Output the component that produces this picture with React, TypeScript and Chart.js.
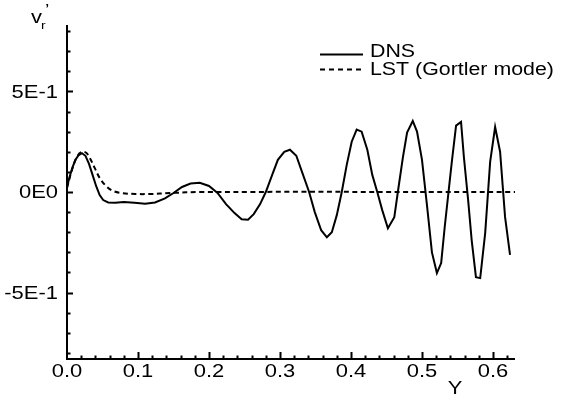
import { useEffect, useRef } from 'react';
import { Chart, registerables } from 'chart.js';

Chart.register(...registerables);

// Wall-normal coordinate Y and disturbance v_r' for the DNS profile
const dnsY = [
  0, 0.004, 0.008, 0.012, 0.016, 0.021, 0.026, 0.031, 0.036, 0.041, 0.046, 0.051,
  0.058, 0.068, 0.08, 0.095, 0.11, 0.124, 0.138, 0.15, 0.162, 0.174, 0.187, 0.2,
  0.212, 0.224, 0.236, 0.246, 0.255, 0.263, 0.272, 0.28, 0.289, 0.297, 0.306, 0.314,
  0.323, 0.331, 0.341, 0.349, 0.358, 0.366, 0.373, 0.38, 0.387, 0.394, 0.401, 0.408,
  0.415, 0.423, 0.43, 0.437, 0.444, 0.452, 0.461, 0.466, 0.473, 0.479, 0.487, 0.493,
  0.5, 0.507, 0.514, 0.521, 0.527, 0.532, 0.538, 0.542, 0.548, 0.555, 0.559, 0.565,
  0.57, 0.576, 0.582, 0.589, 0.596, 0.603, 0.61, 0.617, 0.624,
];
const dnsV = [
  0.025, 0.08, 0.125, 0.16, 0.182, 0.193, 0.18, 0.14, 0.085, 0.03, -0.015, -0.04,
  -0.052, -0.053, -0.05, -0.053, -0.058, -0.052, -0.032, -0.005, 0.025, 0.042, 0.046, 0.03,
  -0.005, -0.06, -0.105, -0.135, -0.138, -0.11, -0.06, 0.0, 0.085, 0.16, 0.2, 0.21,
  0.18, 0.1, 0.0, -0.1, -0.19, -0.225, -0.2, -0.115, 0.0, 0.135, 0.25, 0.31,
  0.3, 0.21, 0.085, 0.0, -0.09, -0.18, -0.125, 0.0, 0.17, 0.295, 0.353, 0.3,
  0.16, -0.065, -0.3, -0.403, -0.353, -0.174, 0.02, 0.15, 0.33, 0.348, 0.174, -0.04,
  -0.24, -0.423, -0.428, -0.204, 0.15, 0.323, 0.2, -0.124, -0.313,
];

// Linear stability theory (Gortler mode) profile
const lstY = [
  0, 0.007, 0.014, 0.021, 0.027, 0.032, 0.039, 0.046, 0.055, 0.065, 0.077, 0.096,
  0.117, 0.145, 0.19, 0.631,
];
const lstV = [
  0.02, 0.11, 0.175, 0.2, 0.195, 0.17, 0.12, 0.07, 0.03, 0.005, -0.005, -0.01,
  -0.01, -0.005, 0, 0,
];

const seriesNames = ['DNS', 'LST (Gortler mode)'];

const xTickValues = [0, 0.1, 0.2, 0.3, 0.4, 0.5, 0.6];
const xTickLabels = ['0.0', '0.1', '0.2', '0.3', '0.4', '0.5', '0.6'];
const yTickValues = [-0.5, 0, 0.5];
const yTickLabels = ['-5E-1', '0E0', '5E-1'];

const xTitle = 'Y';
const yTitle = 'v';
const yTitleSub = 'r';

const FONT = '"Liberation Sans", Arial, Helvetica, sans-serif';
const STRETCH = 1.22;

function wideText(
  ctx: CanvasRenderingContext2D,
  text: string,
  x: number,
  y: number,
  size: number,
  align: CanvasTextAlign,
) {
  ctx.save();
  ctx.translate(x, y);
  ctx.scale(STRETCH, 1);
  ctx.font = `${size}px ${FONT}`;
  ctx.textAlign = align;
  ctx.textBaseline = 'middle';
  ctx.fillStyle = '#000';
  ctx.fillText(text, 0, 0);
  ctx.restore();
}

const axesPlugin = {
  id: 'frameAxes',
  afterDraw(chart: Chart) {
    const { ctx, chartArea } = chart;
    const xs = chart.scales.x;
    const ys = chart.scales.y;
    const { left, right, top, bottom } = chartArea;
    ctx.save();
    ctx.strokeStyle = '#000';
    ctx.lineWidth = 2;
    ctx.lineCap = 'butt';

    // axis lines
    ctx.beginPath();
    ctx.moveTo(left, top);
    ctx.lineTo(left, bottom + 1);
    ctx.moveTo(left - 1, bottom);
    ctx.lineTo(right, bottom);
    ctx.stroke();

    // inward tick marks: minor every 0.1 on v, every 0.02 on Y
    ctx.beginPath();
    for (let i = -8; i <= 8; i++) {
      const py = Math.round(ys.getPixelForValue(i / 10)) + 0.5;
      const len = i % 5 === 0 ? 6 : 3.5;
      ctx.moveTo(left, py);
      ctx.lineTo(left + len, py);
    }
    for (let i = 1; i <= 31; i++) {
      const v = i * 0.02;
      if (v > (xs.max as number)) break;
      const px = Math.round(xs.getPixelForValue(v)) + 0.5;
      const len = i % 5 === 0 ? 7 : 3.5;
      ctx.moveTo(px, bottom);
      ctx.lineTo(px, bottom - len);
    }
    ctx.stroke();

    // tick labels
    yTickValues.forEach((v, i) => {
      wideText(ctx, yTickLabels[i], left - 9, ys.getPixelForValue(v) + 1.5, 18, 'right');
    });
    xTickValues.forEach((v, i) => {
      wideText(ctx, xTickLabels[i], xs.getPixelForValue(v), bottom + 13.5, 18, 'center');
    });

    // axis titles
    wideText(ctx, xTitle, 455, 389, 18, 'center');
    wideText(ctx, yTitle, 31, 18, 18, 'left');
    wideText(ctx, yTitleSub, 41, 25.5, 11.5, 'left');
    wideText(ctx, '\u2019', 45, 12, 16, 'left');

    // legend
    const lx0 = 320;
    const lx1 = 363;
    ctx.lineWidth = 1.8;
    ctx.beginPath();
    ctx.moveTo(lx0, 54.5);
    ctx.lineTo(lx1, 54.5);
    ctx.stroke();
    ctx.setLineDash([5, 4]);
    ctx.beginPath();
    ctx.moveTo(lx0, 69.5);
    ctx.lineTo(lx1, 69.5);
    ctx.stroke();
    ctx.setLineDash([]);
    wideText(ctx, seriesNames[0], 370, 52.5, 17.5, 'left');
    wideText(ctx, seriesNames[1], 370, 70, 17.5, 'left');

    ctx.restore();
  },
};

export default function App() {
  const canvasRef = useRef<HTMLCanvasElement | null>(null);

  useEffect(() => {
    const canvas = canvasRef.current;
    if (!canvas) return;
    const chart = new Chart(canvas, {
      type: 'line',
      data: {
        datasets: [
          {
            label: seriesNames[0],
            data: dnsY.map((y, i) => ({ x: y, y: dnsV[i] })),
            borderColor: '#000',
            borderWidth: 2,
            pointRadius: 0,
            tension: 0,
            fill: false,
          },
          {
            label: seriesNames[1],
            data: lstY.map((y, i) => ({ x: y, y: lstV[i] })),
            borderColor: '#000',
            borderWidth: 2,
            borderDash: [5, 3.5],
            pointRadius: 0,
            tension: 0.35,
            fill: false,
          },
        ],
      },
      options: {
        responsive: false,
        animation: false,
        layout: { padding: { left: 67, top: 25, right: 52, bottom: 41 } },
        plugins: {
          legend: { display: false },
          tooltip: { enabled: false },
        },
        scales: {
          x: { type: 'linear', min: 0, max: 0.631, display: false },
          y: { type: 'linear', min: -0.83, max: 0.83, display: false },
        },
      },
      plugins: [axesPlugin],
    });
    return () => chart.destroy();
  }, []);

  return (
    <div style={{ position: 'fixed', left: 0, top: 0, width: 567, height: 400, background: '#fff' }}>
      <canvas ref={canvasRef} width={567} height={400} />
    </div>
  );
}
